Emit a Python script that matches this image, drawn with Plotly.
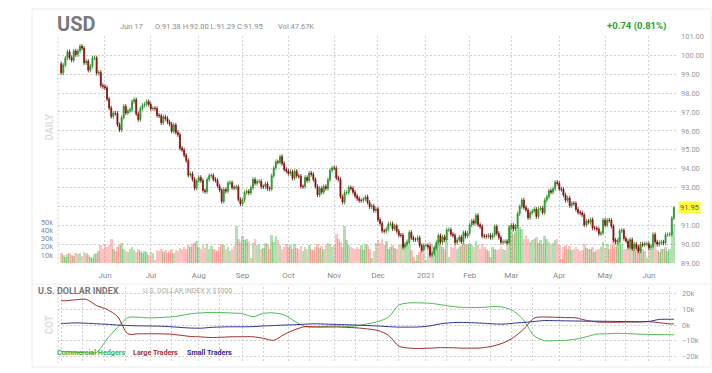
import pandas as pd
import plotly.graph_objects as go

# ---------------- data ----------------
dates = pd.bdate_range("2020-05-01", "2021-06-17")  # trading-day positions

close_2020_05 = [99.07, 99.48, 99.85, 100.18, 99.87, 99.74, 100.22, 100.03, 100.22, 100.47, 100.37,
                 99.60, 99.68, 99.21, 99.42, 99.86, 99.86, 99.05, 99.09, 98.40, 98.34]
close_2020_06 = [98.28, 97.68, 97.21, 96.76, 96.94, 96.92, 96.33, 96.05, 96.71, 97.30, 96.95,
                 97.05, 97.12, 97.55, 97.65, 96.90, 96.60, 97.18, 97.35, 97.40, 97.55, 97.40]
close_2020_07 = [97.17, 97.19, 97.18, 96.82, 96.80, 96.43, 96.74, 96.66, 96.47, 96.36, 95.98, 96.31,
                 95.92, 95.80, 95.08, 94.99, 94.71, 94.43, 93.66, 93.73, 93.44, 92.97, 93.35]
close_2020_08 = [93.54, 93.37, 92.85, 92.79, 93.43, 93.63, 93.64, 93.44, 93.38, 93.09, 92.87,
                 92.27, 92.90, 92.81, 93.24, 93.26, 93.00, 92.99, 93.04, 92.38, 92.14]
close_2020_09 = [92.33, 92.74, 92.80, 92.72, 92.99, 93.43, 93.23, 93.32, 93.33, 93.05, 93.05,
                 93.20, 92.95, 92.93, 93.62, 94.04, 94.37, 94.34, 94.64, 94.27, 93.96, 93.88]
close_2020_10 = [93.75, 93.84, 93.50, 93.86, 93.62, 93.60, 93.06, 93.06, 93.53, 93.38, 93.77,
                 93.70, 93.43, 93.06, 92.61, 92.96, 92.76, 93.06, 92.96, 93.42, 93.91, 94.04]
close_2020_11 = [94.03, 93.52, 93.44, 92.52, 92.23, 92.74, 92.74, 93.00, 92.96, 92.76, 92.56,
                 92.42, 92.32, 92.32, 92.39, 92.51, 92.22, 91.99, 92.03, 91.79, 91.87]
close_2020_12 = [91.31, 91.11, 90.71, 90.70, 90.80, 91.08, 91.09, 90.83, 90.98, 90.70, 90.48, 90.48,
                 89.85, 90.02, 90.09, 90.63, 90.35, 90.25, 90.25, 90.35, 89.94, 89.70, 89.94]
close_2021_01 = [89.94, 89.88, 89.43, 89.53, 89.82, 90.10, 90.47, 90.12, 90.40, 90.23, 90.77,
                 90.77, 90.53, 90.47, 90.10, 90.23, 90.38, 90.14, 90.62, 90.44, 90.58]
close_2021_02 = [91.02, 91.24, 91.12, 91.53, 91.04, 90.94, 90.44, 90.43, 90.42, 90.48,
                 90.36, 90.49, 90.94, 90.58, 90.36, 90.11, 90.14, 90.14, 90.10, 90.88]
close_2021_03 = [91.02, 90.80, 90.96, 91.62, 91.99, 92.34, 91.95, 91.82, 91.41, 91.67, 91.76, 91.86,
                 91.47, 91.87, 91.92, 91.68, 92.33, 92.51, 92.83, 92.76, 92.94, 93.28, 93.23]
close_2021_04 = [92.93, 92.91, 92.61, 92.33, 92.45, 92.05, 92.17, 92.16, 91.85, 91.69, 91.66,
                 91.56, 91.03, 91.23, 91.17, 91.31, 90.86, 90.86, 90.81, 90.56, 90.60, 91.28]
close_2021_05 = [91.02, 91.28, 91.27, 90.95, 90.23, 90.12, 90.19, 90.71, 90.74, 90.31, 90.17,
                 89.85, 90.25, 89.77, 90.01, 89.84, 89.65, 90.01, 89.97, 90.03, 90.03]
close_2021_06 = [89.83, 89.90, 90.52, 90.13, 90.00, 90.09, 90.12, 90.07, 90.52, 90.52, 90.53, 91.38, 91.95]

first_open = 99.55
wick = 0.12
last_high, last_low = 92.00, 91.29

vol_2020_05 = [12, 10, 8, 11, 12, 10, 9, 12, 11, 13, 9, 14, 12, 10, 8, 7, 11, 13, 15, 22, 18]
vol_2020_06 = [24, 20, 22, 30, 18, 15, 20, 22, 25, 17, 15, 14, 18, 20, 16, 14, 17, 15, 12, 15, 14, 10]
vol_2020_07 = [14, 12, 4, 16, 15, 17, 14, 16, 12, 15, 18, 13, 16, 15, 19, 17, 20, 18, 22, 20, 23, 25, 27]
vol_2020_08 = [20, 18, 22, 19, 24, 17, 21, 18, 16, 15, 20, 24, 22, 18, 20, 15, 17, 21, 45, 30, 26]
vol_2020_09 = [33, 28, 30, 26, 6, 25, 30, 22, 24, 18, 19, 25, 23, 17, 34, 26, 33, 28, 22, 18, 20, 24]
vol_2020_10 = [20, 22, 18, 24, 19, 17, 21, 15, 20, 18, 22, 17, 16, 20, 24, 19, 21, 18, 22, 25, 23, 20]
vol_2020_11 = [22, 35, 30, 26, 20, 45, 28, 22, 20, 19, 18, 20, 17, 22, 16, 24, 22, 18, 6, 15, 25]
vol_2020_12 = [28, 25, 29, 22, 27, 18, 20, 22, 19, 17, 22, 24, 25, 18, 30, 22, 16, 8, 3, 10, 14, 18, 12]
vol_2021_01 = [4, 22, 26, 24, 20, 22, 28, 24, 20, 18, 26, 8, 20, 19, 24, 18, 20, 22, 25, 24, 22]
vol_2021_02 = [25, 22, 20, 27, 22, 18, 24, 20, 17, 15, 8, 20, 18, 16, 17, 20, 18, 16, 30, 46]
vol_2021_03 = [40, 35, 38, 46, 44, 42, 30, 34, 30, 26, 28, 30, 32, 25, 28, 24, 33, 30, 26, 22, 25, 28, 30]
vol_2021_04 = [22, 5, 20, 22, 18, 21, 16, 18, 20, 17, 15, 16, 23, 19, 17, 18, 20, 14, 16, 18, 20, 26]
vol_2021_05 = [19, 24, 18, 22, 30, 20, 25, 32, 24, 18, 17, 26, 20, 24, 16, 19, 22, 20, 18, 15, 6]
vol_2021_06 = [20, 18, 24, 22, 16, 14, 17, 18, 20, 15, 18, 40, 47.67]

month_labels = ["Jun", "Jul", "Aug", "Sep", "Oct", "Nov", "Dec", "2021", "Feb", "Mar", "Apr", "May", "Jun"]
price_ticks = [89, 90, 91, 92, 93, 94, 95, 96, 97, 98, 99, 100, 101]
vol_ticks = [10, 20, 30, 40, 50]
vol_ticktext = ["10k", "20k", "30k", "40k", "50k"]
cot_ticks = [20, 10, 0, -10, -20]
cot_ticktext = ["20k", "10k", "0k", "\u221210k", "\u221220k"]

# COT (thousands of contracts), weekly
cot_dates = (["2020-05-01"] +
             [d.strftime("%Y-%m-%d") for d in pd.date_range("2020-05-05", "2021-06-15", freq="W-TUE")] +
             ["2021-06-17"])
cot_commercial = [-17.0,
                  -17.0, -17.5, -17.8, -17.5, -9.0, -1.5, 4.8, 5.0, 4.6, 4.8,
                  5.2, 6.0, 7.2, 7.8, 8.1, 8.0, 7.7, 7.3, 5.3, 7.5,
                  7.8, 6.5, 2.5, -1.0, -1.3, -0.8, -0.6, -0.8, -0.5, 0.8,
                  2.3, 5.0, 12.8, 14.2, 14.2, 14.0, 13.1, 12.0, 11.4, 11.3,
                  11.3, 11.8, 11.5, 9.0, 3.0, -7.0, -10.0, -10.0, -9.8, -9.0,
                  -7.5, -5.8, -5.6, -5.3, -5.5, -5.8, -6.0, -6.1, -6.2,
                  -6.25]
cot_large = [15.6,
             15.6, 16.2, 16.5, 12.5, 10.0, 5.5, -5.6, -5.6, -5.6, -5.6,
             -5.8, -6.5, -7.3, -7.6, -8.0, -7.8, -7.5, -7.5, -7.5, -8.5,
             -9.8, -6.0, -3.0, -1.0, -1.2, -1.3, -1.2, -1.5, -1.8, -2.5,
             -3.5, -6.5, -13.5, -14.8, -15.0, -14.8, -14.5, -14.5, -14.8, -14.8,
             -14.6, -13.5, -11.5, -8.0, -2.5, 4.5, 5.2, 5.0, 4.8, 4.6,
             3.0, 2.0, 1.8, 1.8, 2.0, 2.0, 2.2, 1.5, 0.8,
             0.8]
cot_small = [1.1,
             1.1, 1.4, 1.2, 0.8, 0.5, 0.0, -0.3, -0.5, -0.6, -0.7,
             -1.0, -1.5, -1.9, -2.0, -1.5, -1.2, -1.1, -1.1, -1.0, -0.6,
             -0.3, 0.0, 0.2, 0.6, 0.8, 0.6, 0.4, 0.2, 0.0, -0.3,
             -0.6, -1.0, -1.3, -1.3, -1.2, -0.5, 0.8, 1.5, 1.7, 1.5,
             1.2, 0.8, 0.6, 1.2, 1.7, 2.3, 2.9, 2.8, 2.7, 2.6,
             2.5, 2.5, 2.4, 2.3, 2.2, 2.1, 2.3, 3.6, 3.7,
             3.75]

# ---------------- assemble ----------------
closes = (close_2020_05 + close_2020_06 + close_2020_07 + close_2020_08 + close_2020_09 +
          close_2020_10 + close_2020_11 + close_2020_12 + close_2021_01 + close_2021_02 +
          close_2021_03 + close_2021_04 + close_2021_05 + close_2021_06)
volumes = (vol_2020_05 + vol_2020_06 + vol_2020_07 + vol_2020_08 + vol_2020_09 + vol_2020_10 +
           vol_2020_11 + vol_2020_12 + vol_2021_01 + vol_2021_02 + vol_2021_03 + vol_2021_04 +
           vol_2021_05 + vol_2021_06)
n = len(dates)
assert len(closes) == n and len(volumes) == n, (len(closes), len(volumes), n)

opens = [first_open] + closes[:-1]
highs = [max(o, c) + wick for o, c in zip(opens, closes)]
lows = [min(o, c) - wick for o, c in zip(opens, closes)]
highs[-1], lows[-1] = last_high, last_low
xi = list(range(n))

pos = {d.strftime("%Y-%m-%d"): i for i, d in enumerate(dates)}
cot_x = [pos[d] for d in cot_dates]

# month start positions (labels) and 1st/15th positions (COT grid)
month_idx, half_idx = [], []
prev = None
for i, d in enumerate(dates):
    key = (d.year, d.month)
    if key != prev:
        if prev is not None:
            month_idx.append(i)
        half_idx.append(i)
        prev = key
seen = set()
for i, d in enumerate(dates):
    key = (d.year, d.month)
    if d.day >= 15 and key not in seen:
        seen.add(key)
        half_idx.append(i)
half_idx = sorted(half_idx)

up_col = "#35b035"
up_line = "#238f23"
dn_col = "#9b1212"
dn_line = "#7d0c0c"
vol_colors = ["rgba(70,180,70,0.42)" if c >= o else "rgba(255,100,100,0.40)" for o, c in zip(opens, closes)]

W, H = 712, 373
def px(p):
    return p / W
def py(p):
    return 1 - p / H

X0, X1 = 58, 676
grid = "#cfcfcf"
font_fam = "Roboto"

fig = go.Figure()
fig.add_trace(go.Bar(x=xi, y=volumes, marker=dict(color=vol_colors, line=dict(width=0)),
                     width=1.25, xaxis="x", yaxis="y", hoverinfo="skip", showlegend=False))
fig.add_trace(go.Candlestick(x=xi, open=opens, high=highs, low=lows, close=closes,
                             xaxis="x", yaxis="y2", whiskerwidth=0,
                             increasing=dict(line=dict(color=up_line, width=0.8), fillcolor=up_col),
                             decreasing=dict(line=dict(color=dn_line, width=0.8), fillcolor=dn_col),
                             showlegend=False, hoverinfo="skip"))
for vals, col in [(cot_commercial, "#4cbb4c"), (cot_large, "#a02c2c"), (cot_small, "#2e3192")]:
    fig.add_trace(go.Scatter(x=cot_x, y=vals, mode="lines", xaxis="x2", yaxis="y3",
                             line=dict(color=col, width=1.0, shape="spline", smoothing=0.8),
                             showlegend=False, hoverinfo="skip"))

xr = [(X0 - 61.2) / 2.084, (X1 - 61.2) / 2.084]
fig.update_layout(
    width=W, height=H, autosize=False,
    margin=dict(l=0, r=0, t=0, b=0),
    paper_bgcolor="white", plot_bgcolor="white",
    font=dict(family=font_fam, color="#8a8a8a", size=8),
    showlegend=False, bargap=0,
    xaxis=dict(domain=[px(X0), px(X1)], range=xr, anchor="y",
               tickmode="array", tickvals=month_idx, ticktext=month_labels,
               showgrid=True, gridcolor=grid, griddash="2px,2px", gridwidth=1,
               zeroline=False, showline=False, ticks="", ticklen=0, ticklabelstandoff=6,
               tickfont=dict(size=8, color="#8a8a8a"),
               rangeslider=dict(visible=False), fixedrange=True),
    yaxis=dict(domain=[py(265.8), py(33)], range=[0, 275], side="left", anchor="x",
               tickmode="array", tickvals=vol_ticks, ticktext=vol_ticktext,
               showgrid=False, zeroline=False, ticks="", ticklen=0, ticklabelstandoff=4,
               tickfont=dict(size=7.5, color="#8a8a8a"), fixedrange=True),
    yaxis2=dict(overlaying="y", side="right", anchor="x", range=[88.995, 101.005],
                tickmode="array", tickvals=price_ticks, tickformat=".2f",
                showgrid=True, gridcolor=grid, griddash="2px,2px", gridwidth=1,
                zeroline=False, ticks="", ticklen=0, ticklabelstandoff=4,
                tickfont=dict(size=7.5, color="#9a9a9a"), fixedrange=True),
    xaxis2=dict(domain=[px(X0), px(X1)], range=xr, anchor="y3", matches="x",
                tickmode="array", tickvals=half_idx, showticklabels=False,
                showgrid=True, gridcolor=grid, griddash="2px,2px", gridwidth=1,
                zeroline=False, showline=False, ticks="", ticklen=0, fixedrange=True),
    yaxis3=dict(domain=[py(368), py(290)], range=[-24.4, 24.4], side="right", anchor="x2",
                tickmode="array", tickvals=cot_ticks, ticktext=cot_ticktext,
                showgrid=True, gridcolor=grid, griddash="2px,2px", gridwidth=1,
                zeroline=False, ticks="", ticklen=0, ticklabelstandoff=5,
                tickfont=dict(size=7.5, color="#9a9a9a"), fixedrange=True),
)

shapes = [
    dict(type="rect", xref="paper", yref="paper", x0=px(32), x1=px(711), y0=py(372), y1=py(5),
         line=dict(color="#ececec", width=1), fillcolor="rgba(0,0,0,0)", layer="below"),
    dict(type="line", xref="paper", yref="paper", x0=px(32), x1=px(711), y0=py(287), y1=py(287),
         line=dict(color="#ececec", width=1), layer="below"),
    dict(type="line", xref="paper", yref="paper", x0=px(X0), x1=px(X0), y0=py(265.8), y1=py(33),
         line=dict(color=grid, width=1, dash="2px,2px"), layer="below"),
    dict(type="line", xref="paper", yref="paper", x0=px(X0), x1=px(X0), y0=py(368), y1=py(290),
         line=dict(color=grid, width=1, dash="2px,2px"), layer="below"),
]
fig.update_layout(shapes=shapes)

def ann(text, x, y, size, color, xanchor="left", angle=0, bold=False, **kw):
    t = f"<b>{text}</b>" if bold else text
    return dict(text=t, xref="paper", yref="paper", x=px(x), y=py(y), xanchor=xanchor,
                yanchor="middle", showarrow=False, textangle=angle,
                font=dict(family=font_fam, size=size, color=color), **kw)

annotations = [
    ann("USD", 55, 20, 20, "#7a7a7a", bold=True),
    ann("Jun 17", 118, 23, 7.5, "#8c8c8c"),
    ann("O:91.38 H:92.00 L:91.29 C:91.95", 153, 23, 7.5, "#8c8c8c"),
    ann("Vol:47.67K", 276, 23, 7.5, "#8c8c8c"),
    ann("+0.74 (0.81%)", 668, 23, 9.5, "#2e9e2e", xanchor="right", bold=True),
    ann("DAILY", 49, 126.5, 10, "#dedede", xanchor="center", angle=-90, bold=True),
    ann("COT", 49.5, 329, 10, "#dedede", xanchor="center", angle=-90, bold=True),
    ann("U.S. DOLLAR INDEX", 36, 294, 9, "#777777", bold=True),
    ann("U.S. DOLLAR INDEX X $1000", 141, 294, 7, "#ababab"),
    ann("Commercial Hedgers", 55, 357.5, 7.2, "#3fae3f", bold=True),
    ann("Large Traders", 131, 357.5, 7.2, "#a83232", bold=True),
    ann("Small Traders", 185, 357.5, 7.2, "#2c2c96", bold=True),
    dict(text="91.95", xref="paper", yref="y2", x=px(678), y=closes[-1], xanchor="left",
         yanchor="middle", showarrow=False, bgcolor="#ffff3a", borderpad=1,
         font=dict(family=font_fam, size=7.5, color="#555555")),
]
fig.update_layout(annotations=annotations)

fig.write_html("out.html",
               config={"displayModeBar": False, "staticPlot": True},
               post_script="document.body.style.margin='0px';document.body.style.overflow='hidden';")
